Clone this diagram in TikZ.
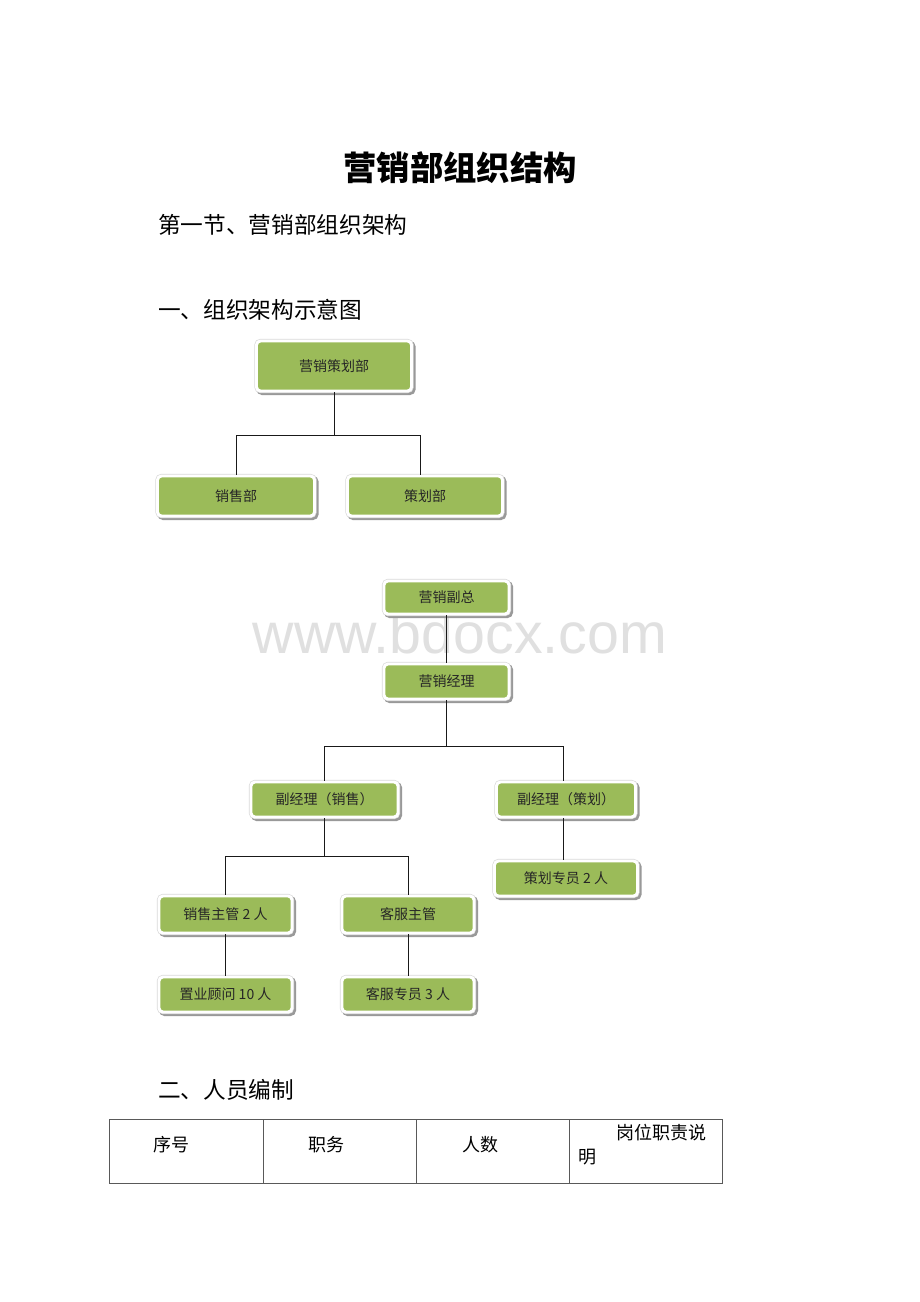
\documentclass[tikz,border=0pt]{standalone}
\usepackage{fontspec}
\usepackage{xcolor}
\usepackage{tikz}
\usetikzlibrary{shapes,arrows}
\newfontfamily\cjk{Noto Sans CJK SC}
\newfontfamily\wmark{Liberation Sans}
\definecolor{boxgreen}{HTML}{9BBB59}
\tikzset{boxsize/.style 2 args={minimum width=#1*0.75pt, minimum height=#2*0.75pt}}

\begin{document}
\begin{tikzpicture}[x=0.75pt,y=-0.75pt]
\tikzstyle{greenbox}=[rounded corners=3pt, fill=boxgreen, draw=white, line width=2.2pt, inner sep=0pt,
  text=black!85, font=\cjk\fontsize{10.5}{12}\selectfont,
  preaction={draw=black!40, line width=3.2pt, transform canvas={shift={(1.5pt,-1.5pt)}}},
  preaction={draw=black!15, line width=3.2pt}]
\tikzstyle{link}=[draw=black!90, line width=0.75pt]
\tikzstyle{bodytext}=[anchor=west, inner sep=0pt, font=\cjk\fontsize{17}{20}\selectfont]
\tikzstyle{celltext}=[inner sep=0pt, font=\cjk\fontsize{13.5}{16}\selectfont]
\tikzstyle{cellrule}=[draw=black!65, line width=0.75pt]
\fill[white] (0,0) rectangle (920,1302);
\useasboundingbox (0,0) rectangle (920,1302);
% headings
\node[font=\cjk\bfseries\fontsize{25}{30}\selectfont] (title) at (460,168) {营销部组织结构};
\node[bodytext] (sec1) at (158,225) {第一节、营销部组织架构};
\node[bodytext] (sec2) at (158,310) {一、组织架构示意图};
\node[bodytext] (sec3) at (158,1090) {二、人员编制};
\node[font=\wmark\fontsize{43}{50}\selectfont, text=black!12, anchor=base] (mark) at (460,653) {www.bdocx.com};
% first chart
\node[greenbox, boxsize={155}{50}] (plan) at (334,366) {营销策划部};
\node[greenbox, boxsize={157}{40}] (sales) at (236,496) {销售部};
\node[greenbox, boxsize={155}{40}] (design) at (425,496) {策划部};
\coordinate (bus1) at (333,435);
\draw[link] (plan.south) -- (plan.south |- bus1) -| (sales.north);
\draw[link] (plan.south |- bus1) -| ([xshift=-3.75pt]design.north);
% second chart
\node[greenbox, boxsize={125}{33}] (vp) at (446.5,597.5) {营销副总};
\node[greenbox, boxsize={125}{35}] (mgr) at (446.5,681.5) {营销经理};
\node[greenbox, boxsize={147}{35}] (subsale) at (324.5,799.5) {副经理（销售）};
\node[greenbox, boxsize={139}{35}] (subplan) at (566,799.5) {副经理（策划）};
\node[greenbox, boxsize={143}{35}] (planner) at (566,878.5) {策划专员 2 人};
\node[greenbox, boxsize={133}{37}] (salelead) at (225.5,914.5) {销售主管 2 人};
\node[greenbox, boxsize={132}{37}] (servlead) at (408,914.5) {客服主管};
\node[greenbox, boxsize={133}{35}] (advisor) at (225.5,994.5) {置业顾问 10 人};
\node[greenbox, boxsize={132}{35}] (servstaff) at (408,994.5) {客服专员 3 人};
\coordinate (bus2) at (446,746);
\coordinate (bus3) at (324,856);
\draw[link] (vp) -- (mgr);
\draw[link] (mgr.south) -- (mgr.south |- bus2) -| (subsale.north);
\draw[link] (mgr.south |- bus2) -| ([xshift=-2.25pt]subplan.north);
\draw[link] ([xshift=-2.25pt]subplan.south) -- ([xshift=-2.25pt]planner.north);
\draw[link] (subsale.south) -- (subsale.south |- bus3) -| (salelead.north);
\draw[link] (subsale.south |- bus3) -| (servlead.north);
\draw[link] (salelead) -- (advisor);
\draw[link] (servlead) -- (servstaff);
% table
\draw[cellrule] (109,1119) rectangle (722,1183);
\foreach \cx in {263,416,569}
  \draw[cellrule] (\cx,1119) -- (\cx,1183);
\node[celltext] (num) at (171.5,1145) {序号};
\node[celltext] (post) at (326.5,1145) {职务};
\node[celltext] (count) at (480,1145) {人数};
\node[celltext] (duty) at (661.5,1133) {岗位职责说};
\node[celltext] (duty2) at (587.5,1157) {明};
\end{tikzpicture}
\end{document}
